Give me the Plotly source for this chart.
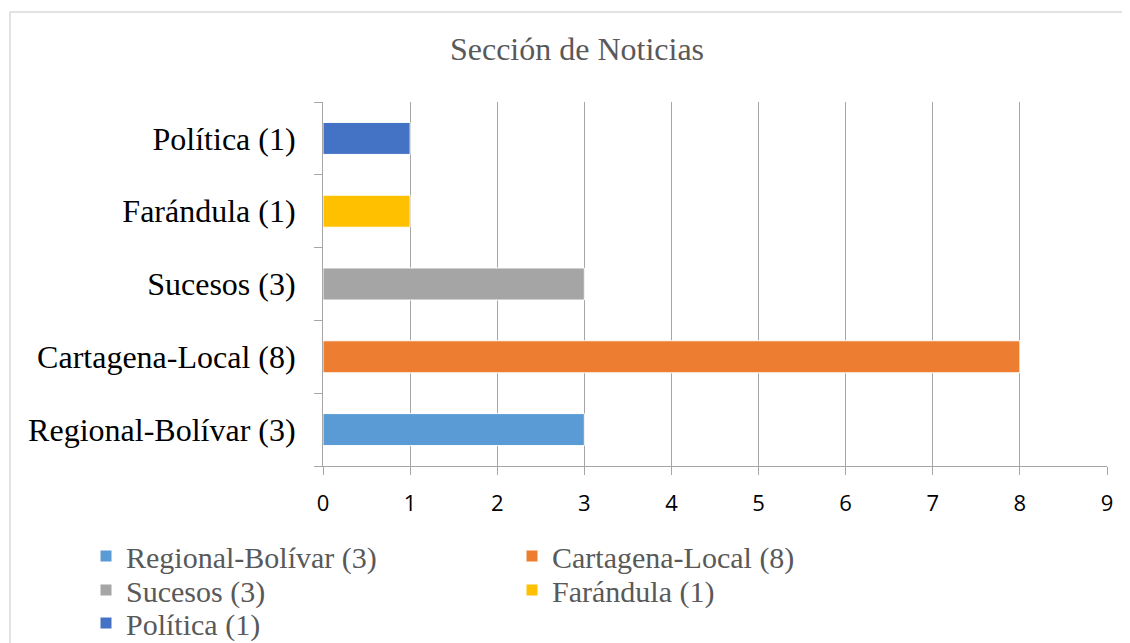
import plotly.graph_objects as go

categories = ["Regional-Bolívar (3)", "Cartagena-Local (8)", "Sucesos (3)", "Farándula (1)", "Política (1)"]
values = [3, 8, 3, 1, 1]
colors = ["#5B9BD5", "#ED7D31", "#A5A5A5", "#FFC000", "#4472C4"]
legend_rows = ["legend", "legend", "legend2", "legend2", "legend3"]
x_ticks = [0, 1, 2, 3, 4, 5, 6, 7, 8, 9]

# page body has an 8px margin; figure drawn at (8, 8)
OFF = 8
W, H = 1130 - OFF, 643 - OFF
L, R, T, B = 323 - OFF, 1107 - OFF, 102 - OFF, 466 - OFF
PW, PH = R - L, B - T

def px_x(x):
    return (x - OFF - L) / PW

def px_y(y):
    return (B - (y - OFF)) / PH

fig = go.Figure()
for c, v, col, lg in zip(categories, values, colors, legend_rows):
    fig.add_trace(go.Bar(
        y=[c], x=[v], name=c, orientation="h", legend=lg,
        marker=dict(color=col, line=dict(color="white", width=1)),
        width=0.44,
    ))

serif = "Liberation Serif, Times New Roman, serif"
leg_font = dict(family=serif, size=30, color="#595959")
row_y = [556, 590, 623]

def leg(y):
    return dict(orientation="h", x=px_x(86), xanchor="left",
                y=px_y(y), yanchor="middle",
                entrywidth=381, entrywidthmode="pixels",
                font=leg_font, itemwidth=30, traceorder="normal",
                bgcolor="rgba(0,0,0,0)")

fig.update_layout(
    width=W, height=H,
    margin=dict(l=L, r=W - R, t=T, b=H - B, autoexpand=False),
    paper_bgcolor="white", plot_bgcolor="white",
    barmode="overlay",
    showlegend=True,
    title=dict(text="Sección de Noticias", x=(577 - OFF) / W, xanchor="center", xref="container",
               y=1 - (49 - OFF) / H, yanchor="middle", yref="container",
               font=dict(family=serif, size=32, color="#595959")),
    legend=leg(row_y[0]),
    legend2=leg(row_y[1]),
    legend3=leg(row_y[2]),
    xaxis=dict(range=[0, 9], tickvals=x_ticks, showgrid=True, gridcolor="#A6A6A6", gridwidth=1,
               showline=True, linecolor="#A6A6A6", linewidth=1,
               ticks="outside", ticklen=8, tickcolor="#A6A6A6",
               ticklabelstandoff=10,
               tickfont=dict(family="Open Sans, Liberation Sans, sans-serif", size=22, color="#000000"),
               zeroline=False, fixedrange=True),
    yaxis=dict(type="category", categoryorder="array", categoryarray=categories,
               showgrid=False, showline=True, linecolor="#A6A6A6", linewidth=1,
               ticks="outside", ticklen=8, tickcolor="#A6A6A6", tickson="boundaries",
               ticklabelstandoff=20,
               tickfont=dict(family=serif, size=32, color="#000000"), fixedrange=True),
    shapes=[dict(type="rect", xref="paper", yref="paper",
                 x0=px_x(10), x1=px_x(1170),
                 y0=px_y(700), y1=px_y(12),
                 line=dict(color="#D9D9D9", width=1.5), fillcolor="rgba(0,0,0,0)", layer="below")],
)

fig.write_html("out.html")
